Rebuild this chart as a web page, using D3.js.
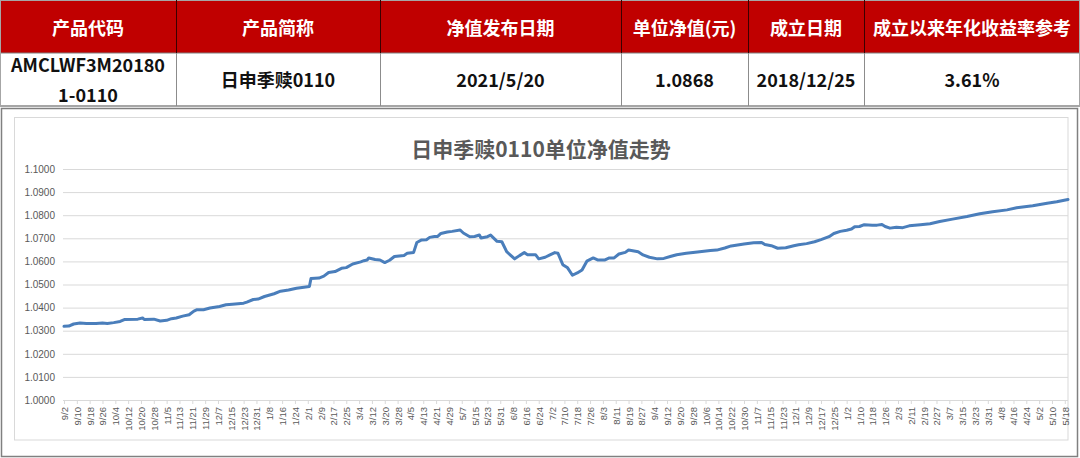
<!DOCTYPE html>
<html>
<head>
<meta charset="utf-8">
<script src="https://cdn.jsdelivr.net/npm/d3@7"></script>
<style>
  html, body { margin: 0; padding: 0; background: #fff; }
  svg { display: block; }
</style>
</head>
<body>
<svg id="c" width="1080" height="458"></svg>
<script>
// ---------- data ----------
const headers = ["产品代码", "产品简称", "净值发布日期", "单位净值(元)", "成立日期", "成立以来年化收益率参考"];
const rowValues = [["AMCLWF3M20180", "1-0110"], ["日申季赎0110"], ["2021/5/20"], ["1.0868"], ["2018/12/25"], ["3.61%"]];
const chartTitle = "日申季赎0110单位净值走势";

const dates = [
  "2019-09-02","2019-09-05","2019-09-08","2019-09-12","2019-09-16","2019-09-22","2019-09-26","2019-09-29",
  "2019-10-03","2019-10-07","2019-10-10","2019-10-18","2019-10-21","2019-10-22","2019-10-28",
  "2019-11-01","2019-11-05","2019-11-08","2019-11-11","2019-11-15","2019-11-19","2019-11-22","2019-11-24","2019-11-28",
  "2019-12-02","2019-12-08","2019-12-12","2019-12-16","2019-12-23","2019-12-25","2019-12-29",
  "2020-01-01","2020-01-05","2020-01-11","2020-01-15","2020-01-20","2020-01-25",
  "2020-02-02","2020-02-03","2020-02-08","2020-02-11","2020-02-14","2020-02-18","2020-02-22","2020-02-25","2020-02-29",
  "2020-03-05","2020-03-07","2020-03-09","2020-03-10","2020-03-14","2020-03-17","2020-03-20","2020-03-23","2020-03-26",
  "2020-04-01","2020-04-03","2020-04-07","2020-04-09","2020-04-12","2020-04-15","2020-04-17","2020-04-20","2020-04-22","2020-04-24","2020-04-28",
  "2020-05-01","2020-05-06","2020-05-08","2020-05-12","2020-05-15","2020-05-18","2020-05-19","2020-05-23","2020-05-25","2020-05-29",
  "2020-06-01","2020-06-04","2020-06-09","2020-06-12","2020-06-15","2020-06-17","2020-06-22","2020-06-24","2020-06-28",
  "2020-07-01","2020-07-04","2020-07-06","2020-07-09","2020-07-12","2020-07-15","2020-07-18","2020-07-21","2020-07-24","2020-07-28","2020-07-31",
  "2020-08-04","2020-08-07","2020-08-10","2020-08-13","2020-08-17","2020-08-19","2020-08-25","2020-08-28",
  "2020-09-01","2020-09-06","2020-09-10","2020-09-14","2020-09-18","2020-09-24",
  "2020-10-01","2020-10-09","2020-10-13","2020-10-18","2020-10-22","2020-10-30",
  "2020-11-05","2020-11-10","2020-11-12","2020-11-16","2020-11-20","2020-11-25","2020-11-30",
  "2020-12-03","2020-12-08","2020-12-13","2020-12-17","2020-12-22","2020-12-25","2020-12-29",
  "2021-01-02","2021-01-05","2021-01-07","2021-01-10","2021-01-13","2021-01-18","2021-01-21","2021-01-24","2021-01-26","2021-01-29",
  "2021-02-02","2021-02-06","2021-02-10","2021-02-17","2021-02-23",
  "2021-03-01","2021-03-09","2021-03-18","2021-03-26",
  "2021-04-03","2021-04-12","2021-04-18","2021-04-28",
  "2021-05-07","2021-05-13","2021-05-20"
];
const navs = [
  1.0319,1.0320,1.0329,1.0333,1.0331,1.0331,1.0333,1.0331,
  1.0335,1.0340,1.0349,1.0350,1.0355,1.0349,1.0350,
  1.0342,1.0345,1.0352,1.0355,1.0363,1.0369,1.0385,1.0391,1.0391,
  1.0398,1.0405,1.0412,1.0415,1.0419,1.0424,1.0435,
  1.0437,1.0448,1.0460,1.0471,1.0476,1.0484,
  1.0491,1.0526,1.0528,1.0536,1.0552,1.0556,1.0570,1.0573,1.0589,
  1.0598,1.0603,1.0606,1.0615,1.0608,1.0606,1.0595,1.0605,1.0621,
  1.0626,1.0635,1.0639,1.0682,1.0693,1.0694,1.0704,1.0708,1.0708,1.0721,1.0727,
  1.0730,1.0736,1.0723,1.0707,1.0708,1.0714,1.0701,1.0707,1.0714,1.0687,
  1.0685,1.0642,1.0611,1.0625,1.0638,1.0629,1.0629,1.0611,1.0618,
  1.0628,1.0638,1.0635,1.0586,1.0572,1.0540,1.0550,1.0563,1.0601,1.0615,1.0606,
  1.0606,1.0615,1.0615,1.0632,1.0639,1.0649,1.0642,1.0628,
  1.0618,1.0611,1.0613,1.0621,1.0629,1.0635,
  1.0641,1.0647,1.0649,1.0658,1.0667,1.0675,
  1.0681,1.0682,1.0673,1.0668,1.0657,1.0659,1.0668,
  1.0672,1.0677,1.0685,1.0694,1.0707,1.0721,1.0730,
  1.0735,1.0740,1.0750,1.0751,1.0759,1.0757,1.0757,1.0760,1.0751,1.0744,
  1.0748,1.0746,1.0754,1.0759,1.0763,
  1.0773,1.0783,1.0794,1.0806,
  1.0815,1.0823,1.0832,1.0841,
  1.0852,1.0858,1.0868
];
const yTicks = [1.00, 1.01, 1.02, 1.03, 1.04, 1.05, 1.06, 1.07, 1.08, 1.09, 1.10];
const xStart = "2019-09-02", xEnd = "2021-05-20", xTickStepDays = 8;

// ---------- drawing ----------
const parse = d3.timeParse("%Y-%m-%d");
const svg = d3.select("#c");
const cjk = "'Noto Sans CJK SC', 'Noto Sans', sans-serif";

// Table
const colEdges = [0, 176, 380, 621, 748, 864, 1080];
const hTop = 0, hBot = 53, rBot = 106;
const tbl = svg.append("g");
tbl.append("rect").attr("x", 0).attr("y", hTop).attr("width", 1080).attr("height", hBot - hTop).attr("fill", "#C00000");
tbl.append("rect").attr("x", 0).attr("y", hBot).attr("width", 1080).attr("height", rBot - hBot).attr("fill", "#fff");
tbl.append("line").attr("x1", 0).attr("x2", 1080).attr("y1", 0.5).attr("y2", 0.5).attr("stroke", "#a6a6a6").attr("stroke-width", 1);
tbl.append("line").attr("x1", 0).attr("x2", 1080).attr("y1", hBot).attr("y2", hBot).attr("stroke", "#7f7f7f").attr("stroke-width", 1);
tbl.append("line").attr("x1", 0).attr("x2", 1080).attr("y1", rBot).attr("y2", rBot).attr("stroke", "#a6a6a6").attr("stroke-width", 2);
colEdges.slice(1, -1).forEach(x => {
  tbl.append("line").attr("x1", x + 0.5).attr("x2", x + 0.5).attr("y1", hTop).attr("y2", hBot).attr("stroke", "#3a0000").attr("stroke-width", 1);
  tbl.append("line").attr("x1", x + 0.5).attr("x2", x + 0.5).attr("y1", hBot).attr("y2", rBot).attr("stroke", "#8c8c8c").attr("stroke-width", 1);
});
tbl.append("line").attr("x1", 0.5).attr("x2", 0.5).attr("y1", hTop).attr("y2", rBot).attr("stroke", "#a6a6a6");
tbl.append("line").attr("x1", 1079.5).attr("x2", 1079.5).attr("y1", hTop).attr("y2", rBot).attr("stroke", "#a6a6a6");

headers.forEach((h, i) => {
  const cx = (colEdges[i] + colEdges[i + 1]) / 2;
  tbl.append("text").attr("x", cx).attr("y", 27).attr("text-anchor", "middle").attr("dominant-baseline", "central")
    .attr("font-family", cjk).attr("font-weight", 700).attr("font-size", 18).attr("fill", "#fff").text(h);
});
rowValues.forEach((lines, i) => {
  const cx = (colEdges[i] + colEdges[i + 1]) / 2;
  const lh = 30;
  const y0 = 79 - (lines.length - 1) * lh / 2;
  lines.forEach((t, j) => {
    tbl.append("text").attr("x", cx).attr("y", y0 + j * lh).attr("text-anchor", "middle").attr("dominant-baseline", "central")
      .attr("font-family", cjk).attr("font-weight", 700).attr("font-size", 18).attr("fill", "#111").text(t);
  });
});

// Chart frame
svg.append("rect").attr("x", 1.5).attr("y", 108.5).attr("width", 1076).attr("height", 348).attr("fill", "#fff")
  .attr("stroke", "#808080").attr("stroke-width", 1.5);
svg.append("rect").attr("x", 14.5).attr("y", 117.5).attr("width", 1053.5).attr("height", 322.5).attr("fill", "#fff")
  .attr("stroke", "#d9d9d9").attr("stroke-width", 1);

svg.append("text").attr("x", 541).attr("y", 148).attr("text-anchor", "middle").attr("dominant-baseline", "central")
  .attr("font-family", cjk).attr("font-weight", 700).attr("font-size", 21).attr("fill", "#595959").text(chartTitle);

const x = d3.scaleTime().domain([parse(xStart), parse(xEnd)]).range([64, 1068]);
const y = d3.scaleLinear().domain([1.0, 1.1]).range([400, 169]);

// y grid + labels
const yAxis = d3.axisLeft(y).tickValues(yTicks).tickSize(-(1068 - 63)).tickFormat(d3.format(".4f")).tickPadding(8);
const gy = svg.append("g").attr("transform", "translate(63,0)").call(yAxis);
gy.select(".domain").remove();
gy.selectAll(".tick line").attr("stroke", "#d9d9d9").attr("stroke-width", 1);
gy.selectAll(".tick text").attr("font-family", "'Liberation Sans', Arial, sans-serif").attr("font-size", 10).attr("fill", "#595959");

// x axis
const tickDates = d3.timeDay.range(parse(xStart), d3.timeDay.offset(parse(xEnd), 1), xTickStepDays);
const xAxis = d3.axisBottom(x).tickValues(tickDates).tickFormat(d3.timeFormat("%-m/%-d")).tickSize(4).tickSizeOuter(0);
const gx = svg.append("g").attr("transform", "translate(0,400)").call(xAxis);
gx.select(".domain").attr("stroke", "#d9d9d9").attr("d", "M63,0.5H1068");
gx.selectAll(".tick line").attr("stroke", "#d9d9d9");
gx.selectAll(".tick text")
  .attr("font-family", "'Liberation Sans', Arial, sans-serif").attr("font-size", 9.5).attr("fill", "#595959")
  .attr("text-anchor", "end").attr("dy", null).attr("y", 0)
  .attr("transform", "translate(0,7) rotate(-90)").attr("x", 0).attr("dominant-baseline", "central");

// line
const data = dates.map((d, i) => ({ date: parse(d), v: navs[i] }));
svg.append("path").datum(data)
  .attr("fill", "none").attr("stroke", "#4A7EBB").attr("stroke-width", 3).attr("stroke-linejoin", "round").attr("stroke-linecap", "round")
  .attr("d", d3.line().x(d => x(d.date)).y(d => y(d.v)));
</script>
</body>
</html>
